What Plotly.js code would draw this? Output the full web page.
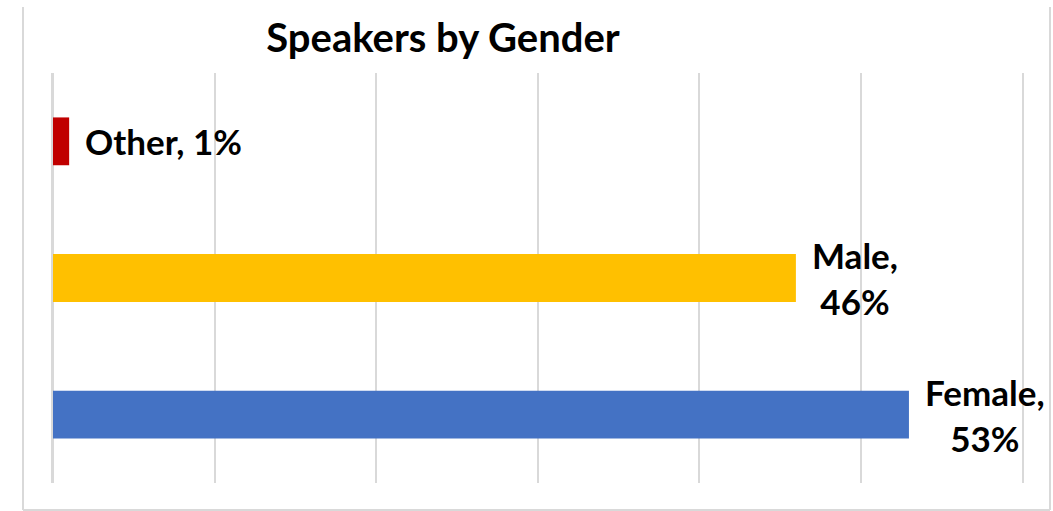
<!DOCTYPE html>
<html>
<head>
<meta charset="utf-8">
<script src="https://cdn.plot.ly/plotly-3.0.1.min.js"></script>
<style>html,body{margin:0;padding:0;background:#fff;}#chart{width:1053px;height:511px;}</style>
</head>
<body>
<div id="chart"></div>
<script>
const categories = ["Female", "Male", "Other"];
const shares = [0.53, 0.46, 0.01];
const pctLabels = ["53%", "46%", "1%"];
const wrapLabel = [true, true, false];
const barColors = ["#4472C4", "#FFC000", "#C00000"];
const xTicks = [0, 0.1, 0.2, 0.3, 0.4, 0.5, 0.6];

const labelFont = {family: "Lato, 'Open Sans', sans-serif", size: 35, color: "#000000", weight: 700};

const trace = {
  type: "bar",
  orientation: "h",
  y: categories,
  x: shares,
  marker: {color: barColors},
  width: 0.35,
  hoverinfo: "none"
};

const annotations = categories.map((c, i) => ({
  x: shares[i],
  y: c,
  xref: "x",
  yref: "y",
  xanchor: "left",
  yanchor: "middle",
  xshift: 14,
  align: "center",
  showarrow: false,
  text: c + "," + (wrapLabel[i] ? "<br>" : " ") + pctLabels[i],
  font: labelFont
}));

const W = 969, H = 410, L = 53, T = 73;
const px = v => (v - L) / W;
const py = v => (T + H - v) / H;
const borderStyle = {color: "#D9D9D9", width: 2};
const shapes = [
  {type: "line", xref: "paper", yref: "paper", x0: px(23), x1: px(23), y0: py(7), y1: py(510), line: borderStyle, layer: "below"},
  {type: "line", xref: "paper", yref: "paper", x0: px(1050), x1: px(1050), y0: py(7), y1: py(510), line: borderStyle, layer: "below"},
  {type: "line", xref: "paper", yref: "paper", x0: px(23), x1: px(1050), y0: py(510), y1: py(510), line: borderStyle, layer: "below"}
];

const layout = {
  width: 1053,
  height: 511,
  margin: {l: L, r: 1053 - L - W, t: T, b: 511 - T - H, pad: 0},
  paper_bgcolor: "#FFFFFF",
  plot_bgcolor: "#FFFFFF",
  title: {
    text: "<b>Speakers by Gender</b>",
    x: 443 / 1053,
    xanchor: "center",
    y: 1 - 38 / 511,
    yanchor: "middle",
    font: {family: "Lato, 'Open Sans', sans-serif", size: 40, color: "#000000"}
  },
  xaxis: {
    range: [0, 0.6],
    tickvals: xTicks,
    showticklabels: false,
    showgrid: true,
    gridcolor: "#D9D9D9",
    gridwidth: 2,
    zeroline: true,
    zerolinecolor: "#D9D9D9",
    zerolinewidth: 2,
    showline: false,
    fixedrange: true
  },
  yaxis: {
    showticklabels: false,
    showgrid: false,
    zeroline: false,
    showline: true,
    mirror: true,
    linecolor: "#D9D9D9",
    linewidth: 2,
    fixedrange: true
  },
  showlegend: false,
  annotations: annotations,
  shapes: shapes
};

Plotly.newPlot("chart", [trace], layout, {displayModeBar: false, staticPlot: true});
</script>
</body>
</html>
